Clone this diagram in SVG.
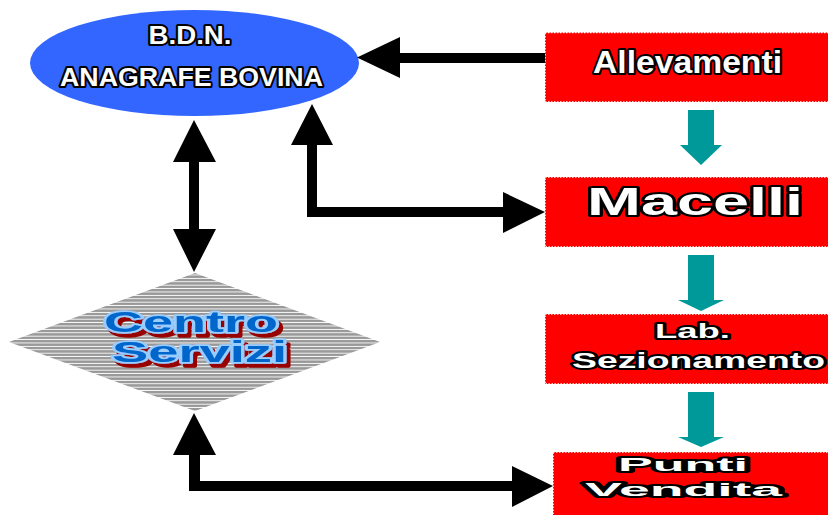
<svg xmlns="http://www.w3.org/2000/svg" width="828" height="515" viewBox="0 0 828 515">
<defs>
<pattern id="stripes" patternUnits="userSpaceOnUse" width="10" height="3.4">
<rect x="0" y="0" width="10" height="3.4" fill="#ffffff"/>
<rect x="0" y="0" width="10" height="2.5" fill="#999999"/>
</pattern>
<filter id="shadow" x="-10%" y="-20%" width="130%" height="150%">
<feOffset in="SourceAlpha" dx="4" dy="4" result="off"/>
<feFlood flood-color="#990000"/>
<feComposite in2="off" operator="in" result="sh"/>
<feMerge><feMergeNode in="sh"/><feMergeNode in="SourceGraphic"/></feMerge>
</filter>
</defs>
<style>
.box{fill:#ff0000;stroke:#ffffff;stroke-width:1.5;stroke-dasharray:1.5 1.5}
.out{font-family:"Liberation Sans",Arial,sans-serif;font-weight:bold;fill:#ffffff;stroke:#000000;stroke-width:4;paint-order:stroke;stroke-linejoin:round}
.cs{font-family:"Liberation Sans",Arial,sans-serif;font-weight:bold;font-size:29px;fill:#0066cc;stroke:#99ccff;stroke-width:3.5;stroke-linejoin:round;paint-order:stroke}
.blk{fill:#000000}
.teal{fill:#009999}
</style>
<g id="bdn">
<ellipse cx="194.5" cy="63" rx="164.5" ry="53" fill="#3366ff"/>
<text class="out" x="190" y="44" font-size="26" text-anchor="middle" textLength="83" lengthAdjust="spacingAndGlyphs">B.D.N.</text>
<text class="out" x="191.5" y="86" font-size="26" text-anchor="middle" textLength="263" lengthAdjust="spacingAndGlyphs">ANAGRAFE BOVINA</text>
</g>
<g id="allevamenti">
<rect class="box" x="545" y="32.5" width="290" height="69.5"/>
<text class="out" x="687.5" y="73" font-size="32" text-anchor="middle" textLength="189" lengthAdjust="spacingAndGlyphs">Allevamenti</text>
</g>
<g id="macelli">
<rect class="box" x="545" y="177" width="290" height="70"/>
<text class="out" x="695" y="215" font-size="39" text-anchor="middle" textLength="216" lengthAdjust="spacingAndGlyphs">Macelli</text>
</g>
<g id="lab">
<rect class="box" x="545" y="314" width="290" height="70"/>
<text class="out" x="692.5" y="338" font-size="21" text-anchor="middle" textLength="75" lengthAdjust="spacingAndGlyphs">Lab.</text>
<text class="out" x="698.5" y="368" font-size="22" text-anchor="middle" textLength="253" lengthAdjust="spacingAndGlyphs">Sezionamento</text>
</g>
<g id="punti">
<rect class="box" x="553" y="452" width="285" height="70"/>
<text class="out" x="683" y="471" font-size="18" text-anchor="middle" textLength="130" lengthAdjust="spacingAndGlyphs">Punti</text>
<text class="out" x="683.5" y="496" font-size="18" text-anchor="middle" textLength="197" lengthAdjust="spacingAndGlyphs">Vendita</text>
</g>
<g id="centro">
<polygon points="195,273 380,342 195,411 9,342" fill="url(#stripes)"/>
<g filter="url(#shadow)">
<text class="cs" x="191" y="332" text-anchor="middle" textLength="174" lengthAdjust="spacingAndGlyphs">Centro</text>
<text class="cs" x="199.5" y="362" text-anchor="middle" textLength="175" lengthAdjust="spacingAndGlyphs">Servizi</text>
</g>
</g>
<g id="connectors">
<polygon class="blk" points="545,53 400,53 400,37 357,57.5 400,78 400,63 545,63"/>
<polygon class="blk" points="194,120 216,162 199,162 199,229 216,229 194,272 173,229 189,229 189,162 173,162"/>
<polygon class="blk" points="312,104 333,145 317,145 317,207 503,207 503,192 545,212 503,233 503,217 307,217 307,145 291,145"/>
<polygon class="blk" points="194,413 216,455 200,455 200,481 512,481 512,466 553,486 512,507 512,491 189,491 189,455 173,455"/>
<polygon class="teal" points="688,110 714,110 714,145 722,145 701,165 680,145 688,145"/>
<polygon class="teal" points="688,255 714,255 714,300 724,300 701,311 678,300 688,300"/>
<polygon class="teal" points="688,392 714,392 714,437 724,437 701,447 678,437 688,437"/>
</g>
</svg>
